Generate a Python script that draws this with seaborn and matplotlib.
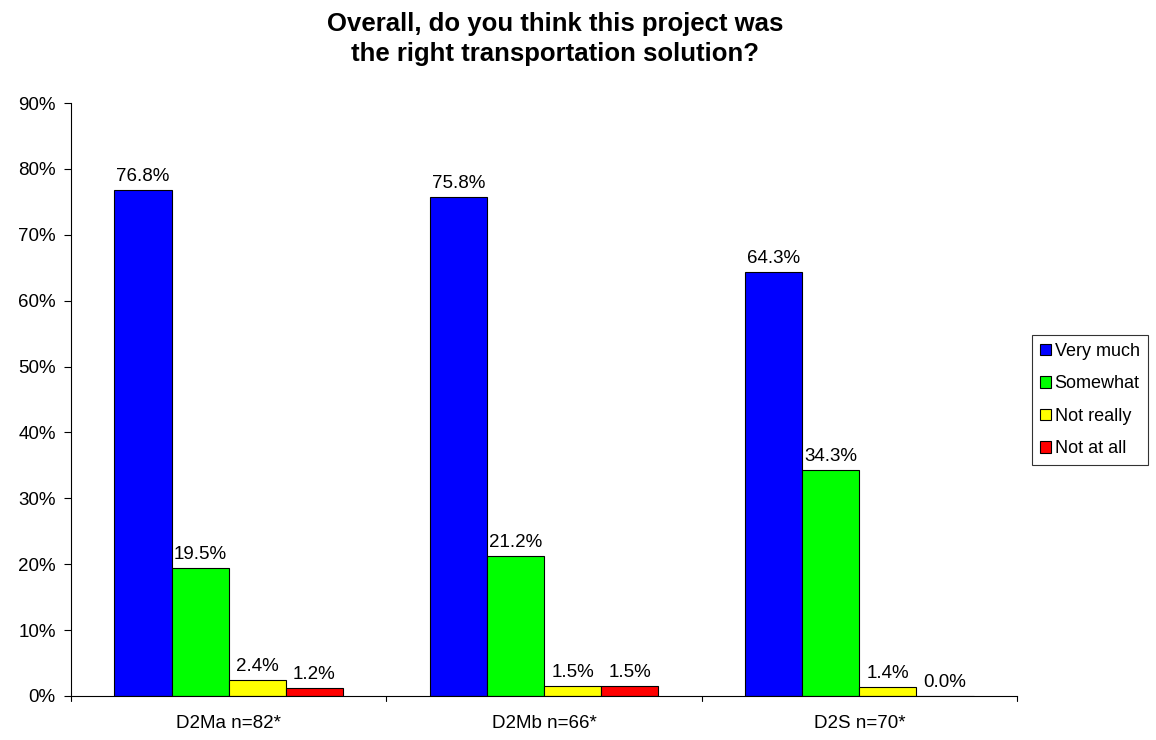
import matplotlib
matplotlib.use("Agg")
import matplotlib.pyplot as plt
import seaborn as sns
import pandas as pd
from matplotlib.patches import Patch

groups = ["D2Ma n=82*", "D2Mb n=66*", "D2S n=70*"]
responses = ["Very much", "Somewhat", "Not really", "Not at all"]
very_much = [76.8, 75.8, 64.3]
somewhat = [19.5, 21.2, 34.3]
not_really = [2.4, 1.5, 1.4]
not_at_all = [1.2, 1.5, 0.0]
colors = ["#0000FF", "#00FF00", "#FFFF00", "#FF0000"]
yticks = list(range(0, 91, 10))

rows = []
for resp, vals in zip(responses, [very_much, somewhat, not_really, not_at_all]):
    for g, v in zip(groups, vals):
        rows.append({"group": g, "response": resp, "value": v})
df = pd.DataFrame(rows)

sns.set_style("white")
plt.rcParams["font.family"] = ["Liberation Sans", "DejaVu Sans"]
for key in ["text.color", "axes.labelcolor", "xtick.color", "ytick.color"]:
    plt.rcParams[key] = "black"

FS = 13.5

fig = plt.figure(figsize=(11.56, 7.4), dpi=100)
ax = fig.add_axes([71 / 1156, 1 - 696 / 740, (1017 - 71) / 1156, (696 - 103) / 740])

sns.barplot(data=df, x="group", y="value", hue="response", order=groups,
            hue_order=responses, palette=colors, width=0.725, saturation=1,
            edgecolor="black", linewidth=0.8, legend=False, ax=ax)

for container in ax.containers:
    ax.bar_label(container, labels=[f"{b.get_height():.1f}%" for b in container],
                 padding=3.5, fontsize=FS)

ax.set_xlim(-0.5, 2.5)
ax.set_ylim(0, 90)
ax.set_yticks(yticks)
ax.set_yticklabels([f"{t}%" for t in yticks], fontsize=FS)
ax.set_xticks([0, 1, 2])
ax.set_xticklabels(groups, fontsize=FS)
ax.tick_params(axis="x", length=0, pad=14)
ax.tick_params(axis="y", length=5, width=0.8, direction="out", left=True, pad=6)
for x in [-0.5, 0.5, 1.5, 2.5]:
    ax.plot([x, x], [0, -0.8], color="black", lw=0.8, clip_on=False,
            transform=ax.transData)
ax.set_xlabel("")
ax.set_ylabel("")
ax.spines["top"].set_visible(False)
ax.spines["right"].set_visible(False)
for s in ["left", "bottom"]:
    ax.spines[s].set_color("black")
    ax.spines[s].set_linewidth(0.8)

handles = [Patch(facecolor=c, edgecolor="black", linewidth=0.8) for c in colors]
leg = fig.legend(handles, responses, loc="upper left",
                 bbox_to_anchor=(1032 / 1156, 1 - 335 / 740), fontsize=13,
                 frameon=True, fancybox=False, handlelength=0.6, handleheight=0.6,
                 handletextpad=0.2, labelspacing=0.85, borderpad=0.45,
                 borderaxespad=0)
leg.get_frame().set_edgecolor("black")
leg.get_frame().set_linewidth(0.8)

fig.text(555 / 1156, 1 - 39 / 740,
         "Overall, do you think this project was\nthe right transportation solution?",
         ha="center", va="center", fontsize=18.5, fontweight="bold", linespacing=1.35)

fig.savefig("out.png", dpi=100, facecolor="white")
